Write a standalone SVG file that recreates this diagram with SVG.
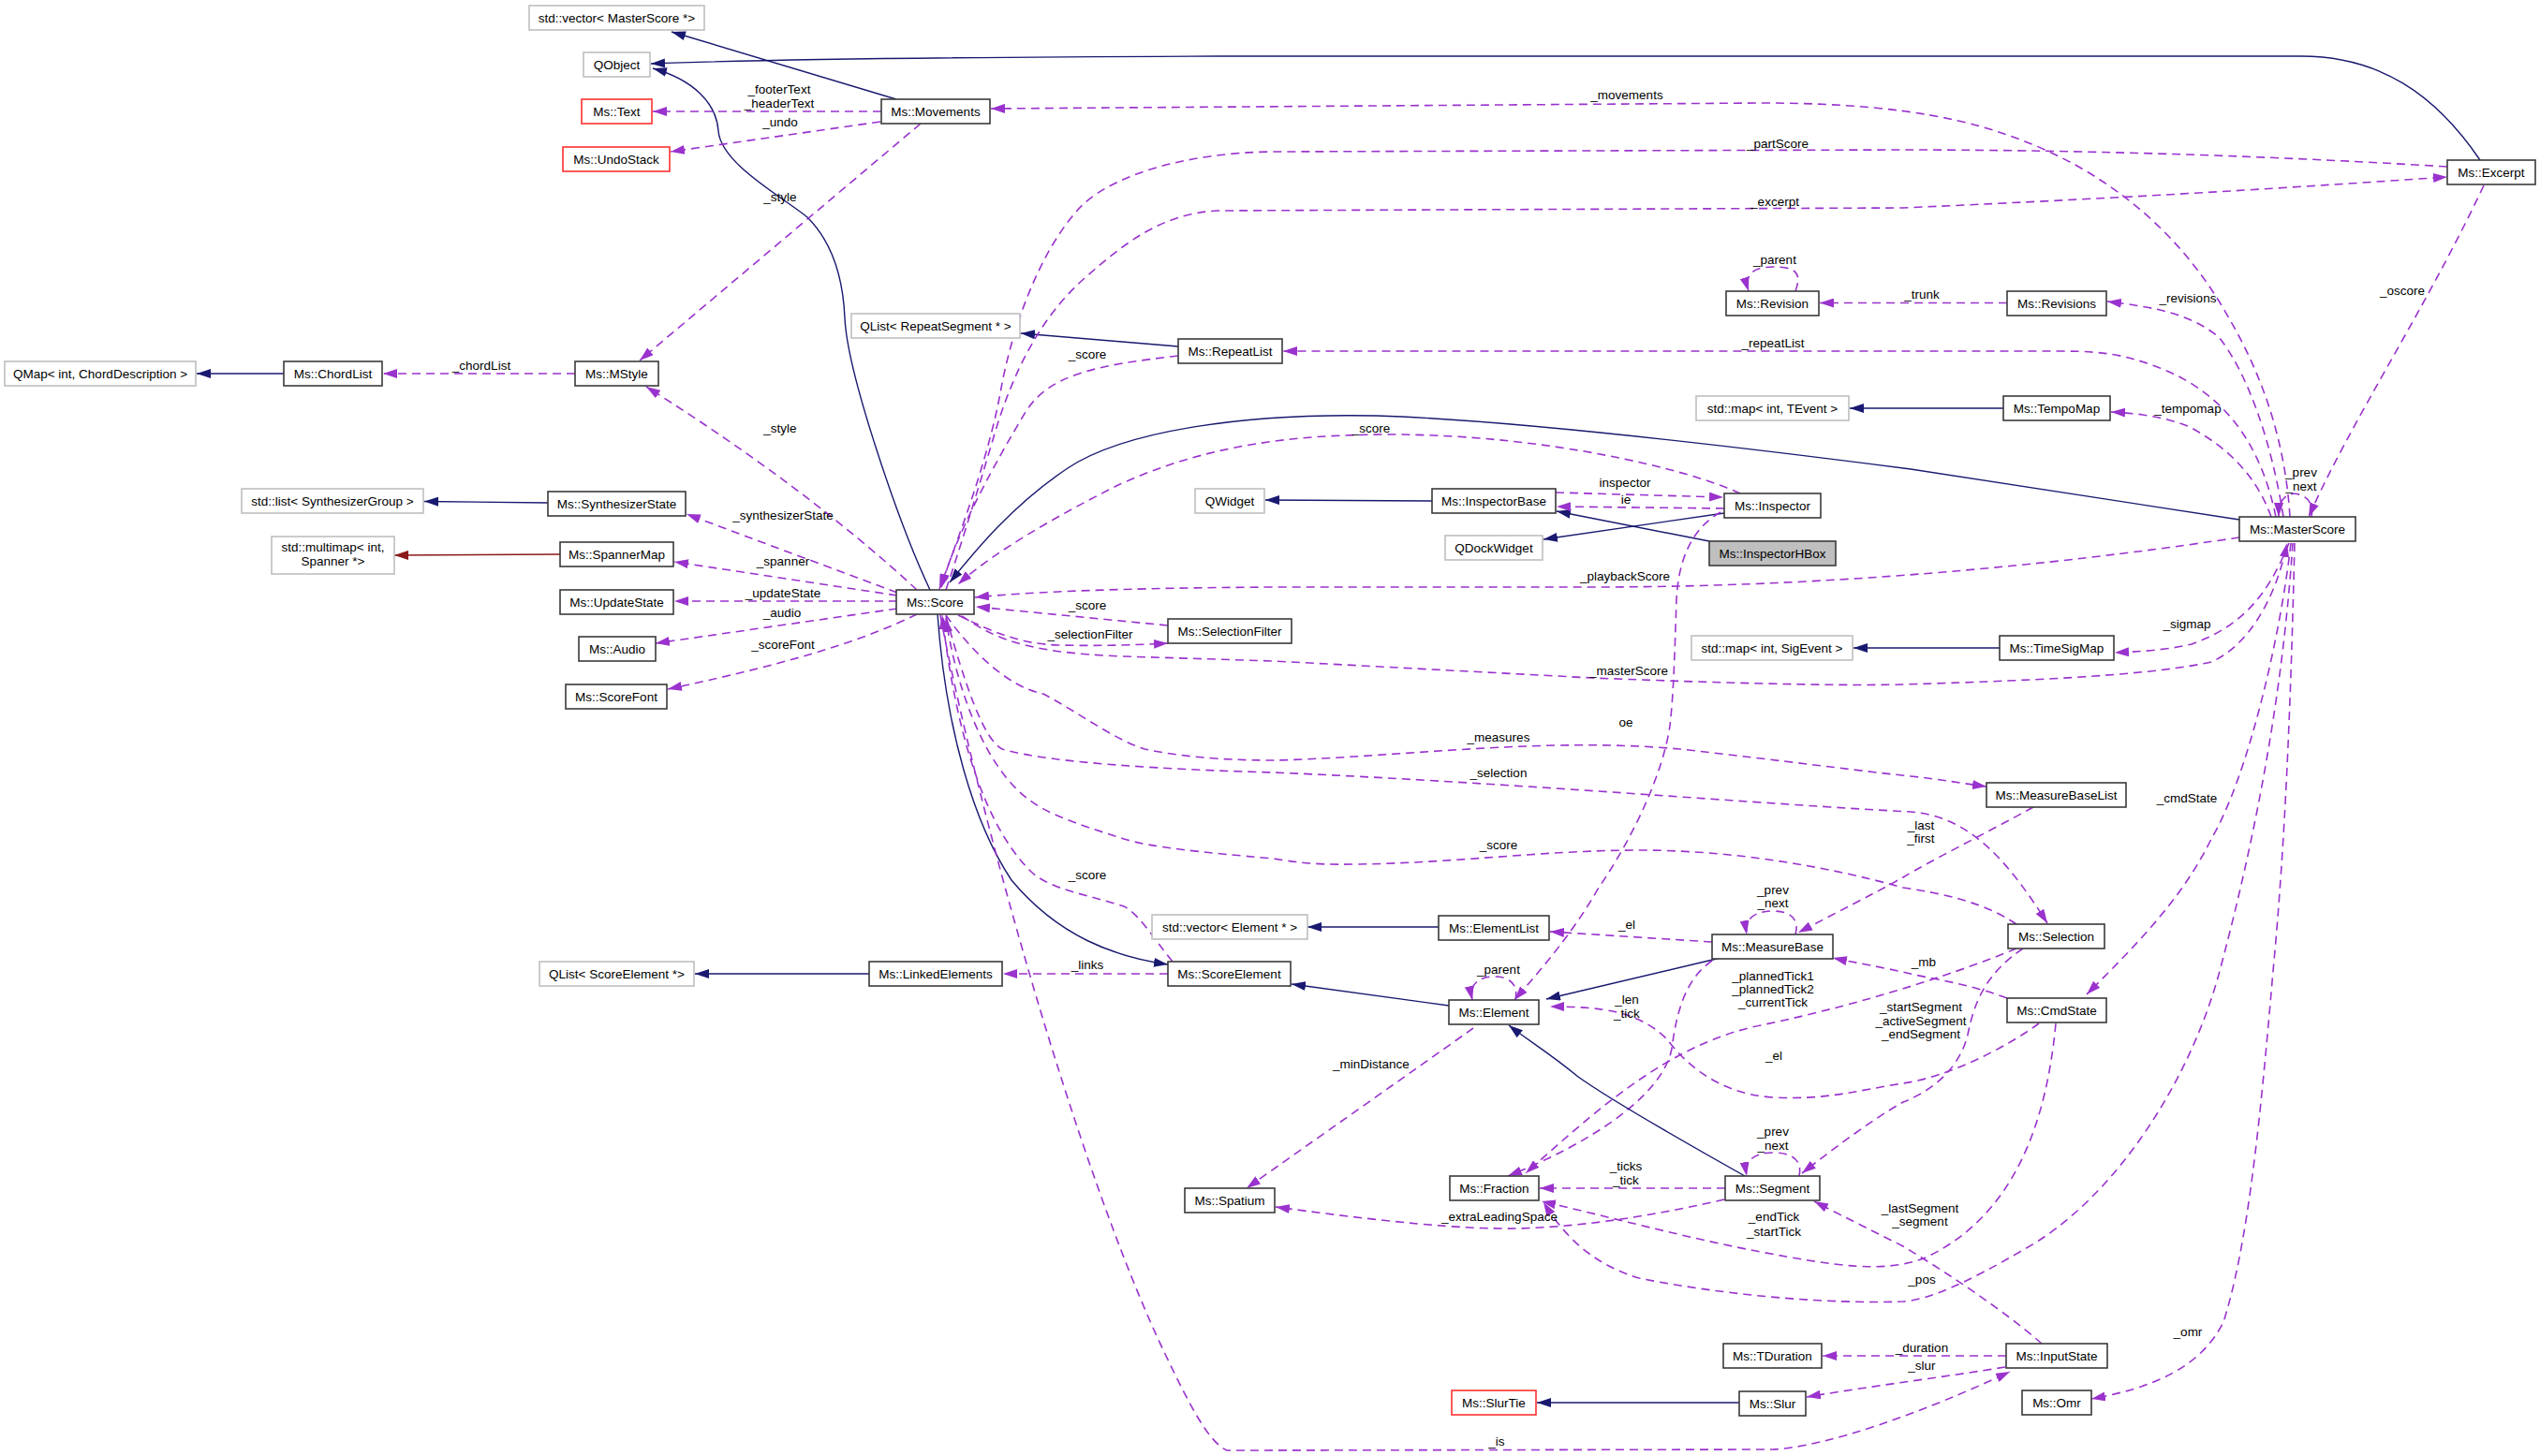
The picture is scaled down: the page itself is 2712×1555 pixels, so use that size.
<svg xmlns="http://www.w3.org/2000/svg" width="2712" height="1555" viewBox="0 0 2712 1555">
<style>
text{font-family:"Liberation Sans",Arial,sans-serif;font-size:13.5px;fill:#000}
.n{fill:#fff;stroke:#3a3a3a;stroke-width:1.6}
.x{fill:#fff;stroke:#bfbfbf;stroke-width:1.6}
.r{fill:#fff;stroke:#ff3030;stroke-width:1.6}
.h{fill:#bfbfbf;stroke:#3a3a3a;stroke-width:1.6}
.t{text-anchor:middle}
.u{fill:none;stroke:#9a32cd;stroke-width:1.6;stroke-dasharray:9,6;marker-end:url(#ap)}
.i{fill:none;stroke:#191970;stroke-width:1.4;marker-end:url(#an)}
.d{fill:none;stroke:#8b1a1a;stroke-width:1.4;marker-end:url(#ad)}
</style>
<defs>
<marker id="ap" viewBox="0 0 15 10" refX="15" refY="5" markerWidth="15" markerHeight="10" markerUnits="userSpaceOnUse" orient="auto"><path d="M0,0L15,5L0,10z" fill="#9a32cd"/></marker>
<marker id="an" viewBox="0 0 15 10" refX="15" refY="5" markerWidth="15" markerHeight="10" markerUnits="userSpaceOnUse" orient="auto"><path d="M0,0L15,5L0,10z" fill="#191970"/></marker>
<marker id="ad" viewBox="0 0 15 10" refX="15" refY="5" markerWidth="15" markerHeight="10" markerUnits="userSpaceOnUse" orient="auto"><path d="M0,0L15,5L0,10z" fill="#8b1a1a"/></marker>
</defs>
<rect width="2712" height="1555" fill="#fff"/>
<g id="edges">
<path class="i" d="M957 106L717 34"/>
<path class="i" d="M2648 171C2600 100 2540 60 2457 60L1300 60C1000 61 800 64 695 68"/>
<path class="i" d="M993 630C960 560 905 400 902 340C900 290 885 255 862 232C835 210 770 175 767 140C765 110 740 85 697 73"/>
<path class="u" d="M941 119L697 119"/>
<path class="u" d="M940 130L716 162"/>
<path class="u" d="M983 132L683 385"/>
<path class="u" d="M614 399L409 399"/>
<path class="i" d="M303 399L210 399"/>
<path class="u" d="M979 630Q860 520 690 413"/>
<path class="u" d="M958 633L733 549"/>
<path class="i" d="M585 537L453 535.5"/>
<path class="u" d="M958 636L720 600"/>
<path class="d" d="M598 592L421 593"/>
<path class="u" d="M958 642L720 642"/>
<path class="u" d="M958 650L700 687"/>
<path class="u" d="M979 656C930 680 860 705 713 736"/>
<path class="i" d="M1258 370L1090 356"/>
<path class="u" d="M1258 380C1170 390 1120 400 1095 440C1065 490 1020 570 1005 628"/>
<path class="u" d="M2613 178C2400 165 2200 160 2032 160L1360 162C1260 163 1180 190 1150 225C1110 270 1080 350 1068 420C1055 490 1025 570 1003 629"/>
<path class="u" d="M1010 630C1030 570 1045 520 1060 470C1080 400 1110 340 1157 298C1200 260 1240 228 1300 225L2032 222C2300 210 2450 200 2613 189"/>
<path class="u" d="M2445 552C2440 470 2415 400 2380 340C2330 250 2250 180 2140 143C2080 122 2000 110 1880 110L1058 116"/>
<path class="u" d="M1858 527C1800 500 1650 465 1490 464C1400 464 1300 470 1196 517C1130 550 1060 590 1023 624"/>
<path class="i" d="M2391 555L2040 501C1800 470 1600 448 1470 444C1330 441 1200 460 1140 500C1080 540 1040 590 1014 622"/>
<path class="u" d="M2391 574C2250 595 2000 627 1700 627L1360 627C1200 628 1100 632 1041 638"/>
<path class="u" d="M1247 668L1042 648"/>
<path class="u" d="M1023 657C1060 675 1090 688 1130 689C1170 690 1210 689 1247 687"/>
<path class="u" d="M1027 658C1060 680 1090 697 1200 701L1360 706L1700 724C1800 728 1950 733 2032 731C2200 726 2300 720 2361 707C2400 690 2430 640 2442 580"/>
<path class="u" d="M2444 580C2420 640 2390 670 2340 688C2310 695 2280 696 2258 697"/>
<path class="i" d="M2135 692L1979 692"/>
<path class="i" d="M2139 436L1975 436"/>
<path class="u" d="M2425 552C2410 510 2380 478 2336 455C2310 445 2280 441 2254 440"/>
<path class="u" d="M2430 552C2415 480 2380 420 2301 391C2270 380 2250 375 2200 375L1370 375"/>
<path class="u" d="M2438 552C2425 470 2400 400 2370 361C2340 335 2300 328 2250 322"/>
<path class="u" d="M2143 323.5L1943 323.5"/>
<path class="u" d="M1917 311C1925 290 1915 285 1893 285C1870 285 1862 295 1867 311"/>
<path class="u" d="M2652 198C2590 330 2510 450 2465 552"/>
<path class="u" d="M2468 552C2472 532 2455 525 2445 528C2436 531 2433 540 2433 552"/>
<path class="u" d="M2446 580C2435 680 2400 830 2361 896C2330 960 2280 1010 2228 1062"/>
<path class="u" d="M2448 580C2440 700 2420 850 2370 1037C2340 1150 2260 1280 2160 1335C2100 1370 2060 1388 2032 1390C1950 1393 1840 1383 1750 1365C1700 1350 1670 1320 1648 1284"/>
<path class="u" d="M2450 580C2446 750 2440 900 2427 1037C2413 1200 2400 1330 2374 1412C2350 1460 2300 1482 2233 1494"/>
<path class="i" d="M1529 535L1351 534"/>
<path class="i" d="M1841 548L1648 576"/>
<path class="i" d="M1825 578L1662 546"/>
<path class="u" d="M1661 526L1840 531"/>
<path class="u" d="M1841 543L1662 541"/>
<path class="u" d="M1837 547C1805 565 1792 600 1790 640C1788 700 1787 740 1783 775C1775 830 1740 900 1707 948C1680 995 1650 1030 1617 1068"/>
<path class="i" d="M1837 1023L1651 1067"/>
<path class="i" d="M1536 990L1396 990"/>
<path class="u" d="M1828 1006L1655 995"/>
<path class="u" d="M1917 998C1922 980 1910 973 1893 973C1875 973 1862 980 1865 998"/>
<path class="u" d="M2171 862C2120 890 2060 920 2032 937C2000 955 1960 975 1920 996"/>
<path class="u" d="M2143 1066C2100 1050 2060 1045 2040 1040C2010 1033 1980 1028 1957 1023"/>
<path class="u" d="M2177 1093C2140 1120 2080 1150 2032 1157C1980 1165 1950 1175 1893 1172C1830 1168 1795 1130 1780 1110C1750 1080 1710 1075 1655 1075"/>
<path class="u" d="M2160 1013C2120 1040 2108 1070 2101 1105C2090 1150 2050 1170 2032 1177C2000 1195 1960 1225 1924 1253"/>
<path class="u" d="M2153 1013C2100 1035 2000 1070 1880 1095C1780 1115 1700 1190 1629 1253"/>
<path class="u" d="M1828 1026C1800 1045 1790 1080 1785 1120C1775 1170 1700 1220 1610 1256"/>
<path class="u" d="M2195 1093C2185 1200 2150 1300 2054 1344C2010 1360 1960 1352 1880 1337C1800 1322 1720 1300 1646 1283"/>
<path class="i" d="M1863 1256C1790 1215 1720 1175 1685 1150C1655 1125 1630 1110 1611 1095"/>
<path class="u" d="M1921 1256C1925 1238 1912 1231 1893 1231C1875 1231 1862 1238 1865 1256"/>
<path class="u" d="M1842 1269L1644 1269"/>
<path class="u" d="M1841 1281C1780 1295 1700 1310 1620 1312C1560 1313 1480 1305 1362 1289"/>
<path class="u" d="M1573 1098C1500 1150 1400 1220 1331 1269"/>
<path class="i" d="M1547 1074L1379 1051"/>
<path class="u" d="M1618 1068C1622 1050 1610 1043 1596 1043C1580 1043 1568 1050 1572 1068"/>
<path class="u" d="M1247 1040L1071 1040"/>
<path class="i" d="M928 1040L742 1040"/>
<path class="i" d="M1001 656C1010 780 1040 880 1080 940C1130 1000 1190 1022 1247 1030"/>
<path class="u" d="M1252 1027C1230 1000 1215 975 1200 968C1160 955 1120 950 1100 930C1050 880 1020 780 1006 657"/>
<path class="u" d="M1004 657C1040 850 1150 1250 1244 1446C1270 1500 1290 1540 1310 1549L1893 1548C1950 1545 2050 1510 2146 1465"/>
<path class="u" d="M2141 1460C2080 1470 2000 1480 1929 1492"/>
<path class="u" d="M2142 1448L1946 1448"/>
<path class="u" d="M2180 1435C2140 1400 2080 1360 2032 1331C1990 1310 1960 1295 1937 1283"/>
<path class="i" d="M1857 1498L1641 1498"/>
<path class="u" d="M1010 658C1030 730 1050 790 1070 800C1120 815 1250 822 1360 825C1600 835 1900 860 2040 867C2100 872 2140 913 2186 986"/>
<path class="u" d="M2153 987C2120 965 2080 955 2032 948C1950 925 1850 908 1750 908C1650 908 1550 922 1447 923C1400 924 1380 920 1360 917C1280 910 1230 905 1200 896C1150 880 1120 870 1100 855C1050 820 1020 730 1010 660"/>
<path class="u" d="M1010 657C1040 700 1080 735 1114 741C1150 760 1190 790 1222 800C1270 810 1320 812 1360 812C1450 810 1560 798 1663 796C1720 795 1760 797 1794 800C1900 812 2000 825 2040 829C2070 832 2090 836 2121 840"/>
<g class="t">
<text x="832" y="100">_footerText</text>
<text x="832" y="115">_headerText</text>
<text x="833" y="135">_undo</text>
<text x="833" y="215">_style</text>
<text x="514" y="395">_chordList</text>
<text x="833" y="462">_style</text>
<text x="836" y="555">_synthesizerState</text>
<text x="836" y="604">_spanner</text>
<text x="836" y="638">_updateState</text>
<text x="835" y="659">_audio</text>
<text x="836" y="693">_scoreFont</text>
<text x="1161" y="383">_score</text>
<text x="1737" y="106">_movements</text>
<text x="1898" y="158">_partScore</text>
<text x="1895" y="220">_excerpt</text>
<text x="1895" y="282">_parent</text>
<text x="1893" y="371">_repeatList</text>
<text x="2052" y="319">_trunk</text>
<text x="2336" y="323">_revisions</text>
<text x="2565" y="315">_oscore</text>
<text x="2336" y="441">_tempomap</text>
<text x="2457" y="509">_prev</text>
<text x="2457" y="524">_next</text>
<text x="1464" y="462">_score</text>
<text x="1735" y="520">inspector</text>
<text x="1736" y="538">ie</text>
<text x="1735" y="620">_playbackScore</text>
<text x="1161" y="651">_score</text>
<text x="1164" y="682">_selectionFilter</text>
<text x="1739" y="721">_masterScore</text>
<text x="2335" y="671">_sigmap</text>
<text x="1736" y="776">oe</text>
<text x="1600" y="792">_measures</text>
<text x="1600" y="830">_selection</text>
<text x="2335" y="857">_cmdState</text>
<text x="2051" y="886">_last</text>
<text x="2051" y="900">_first</text>
<text x="1600" y="907">_score</text>
<text x="1161" y="939">_score</text>
<text x="1893" y="955">_prev</text>
<text x="1893" y="969">_next</text>
<text x="1737" y="992">_el</text>
<text x="2054" y="1032">_mb</text>
<text x="1161" y="1035">_links</text>
<text x="1600" y="1040">_parent</text>
<text x="1893" y="1047">_plannedTick1</text>
<text x="1893" y="1061">_plannedTick2</text>
<text x="1893" y="1075">_currentTick</text>
<text x="1737" y="1072">_len</text>
<text x="1737" y="1087">_tick</text>
<text x="2051" y="1080">_startSegment</text>
<text x="2051" y="1095">_activeSegment</text>
<text x="2051" y="1109">_endSegment</text>
<text x="1894" y="1132">_el</text>
<text x="1464" y="1141">_minDistance</text>
<text x="1893" y="1213">_prev</text>
<text x="1893" y="1228">_next</text>
<text x="1736" y="1250">_ticks</text>
<text x="1736" y="1265">_tick</text>
<text x="2050" y="1295">_lastSegment</text>
<text x="2050" y="1309">_segment</text>
<text x="1601" y="1304">_extraLeadingSpace</text>
<text x="1894" y="1304">_endTick</text>
<text x="1894" y="1320">_startTick</text>
<text x="2052" y="1371">_pos</text>
<text x="2336" y="1427">_omr</text>
<text x="2052" y="1444">_duration</text>
<text x="2052" y="1463">_slur</text>
<text x="1598" y="1544">_is</text>
</g>
</g>
<g id="n_vecMasterScore"><rect class="x" x="565" y="6" width="187" height="26"/><text class="t" x="658.5" y="23.7">std::vector&lt; MasterScore *&gt;</text></g>
<g id="n_QObject"><rect class="x" x="623" y="56" width="71" height="26"/><text class="t" x="658.5" y="73.7">QObject</text></g>
<g id="n_Text"><rect class="r" x="621" y="106" width="75" height="26"/><text class="t" x="658.5" y="123.7">Ms::Text</text></g>
<g id="n_UndoStack"><rect class="r" x="601" y="157" width="114" height="26"/><text class="t" x="658" y="174.7">Ms::UndoStack</text></g>
<g id="n_Movements"><rect class="n" x="941" y="106" width="116" height="26"/><text class="t" x="999" y="123.7">Ms::Movements</text></g>
<g id="n_QMap"><rect class="x" x="5" y="386" width="204" height="26"/><text class="t" x="107" y="403.7">QMap&lt; int, ChordDescription &gt;</text></g>
<g id="n_ChordList"><rect class="n" x="303" y="386" width="105" height="26"/><text class="t" x="355.5" y="403.7">Ms::ChordList</text></g>
<g id="n_MStyle"><rect class="n" x="614" y="386" width="89" height="26"/><text class="t" x="658.5" y="403.7">Ms::MStyle</text></g>
<g id="n_QListRepeat"><rect class="x" x="909" y="335" width="180" height="26"/><text class="t" x="999" y="352.7">QList&lt; RepeatSegment * &gt;</text></g>
<g id="n_RepeatList"><rect class="n" x="1258" y="362" width="111" height="26"/><text class="t" x="1313.5" y="379.7">Ms::RepeatList</text></g>
<g id="n_Revision"><rect class="n" x="1843" y="311" width="99" height="26"/><text class="t" x="1892.5" y="328.7">Ms::Revision</text></g>
<g id="n_Revisions"><rect class="n" x="2143" y="311" width="106" height="26"/><text class="t" x="2196" y="328.7">Ms::Revisions</text></g>
<g id="n_Excerpt"><rect class="n" x="2613" y="171" width="94" height="26"/><text class="t" x="2660" y="188.7">Ms::Excerpt</text></g>
<g id="n_mapTEvent"><rect class="x" x="1811" y="423" width="163" height="26"/><text class="t" x="1892.5" y="440.7">std::map&lt; int, TEvent &gt;</text></g>
<g id="n_TempoMap"><rect class="n" x="2139" y="423" width="114" height="26"/><text class="t" x="2196" y="440.7">Ms::TempoMap</text></g>
<g id="n_listSynth"><rect class="x" x="258" y="522" width="194" height="26"/><text class="t" x="355" y="539.7">std::list&lt; SynthesizerGroup &gt;</text></g>
<g id="n_SynthesizerState"><rect class="n" x="585" y="525" width="147" height="26"/><text class="t" x="658.5" y="542.7">Ms::SynthesizerState</text></g>
<g id="n_multimap"><rect class="x" x="290" y="573" width="131" height="40"/><text class="t" x="355.5" y="589">std::multimap&lt; int,</text><text class="t" x="355.5" y="604">Spanner *&gt;</text></g>
<g id="n_SpannerMap"><rect class="n" x="598" y="579" width="121" height="26"/><text class="t" x="658.5" y="596.7">Ms::SpannerMap</text></g>
<g id="n_UpdateState"><rect class="n" x="598" y="630" width="121" height="26"/><text class="t" x="658.5" y="647.7">Ms::UpdateState</text></g>
<g id="n_Audio"><rect class="n" x="618" y="680" width="82" height="26"/><text class="t" x="659" y="697.7">Ms::Audio</text></g>
<g id="n_ScoreFont"><rect class="n" x="604" y="731" width="108" height="26"/><text class="t" x="658" y="748.7">Ms::ScoreFont</text></g>
<g id="n_Score"><rect class="n" x="957" y="630" width="83" height="26"/><text class="t" x="998.5" y="647.7">Ms::Score</text></g>
<g id="n_QWidget"><rect class="x" x="1276" y="522" width="74" height="26"/><text class="t" x="1313" y="539.7">QWidget</text></g>
<g id="n_InspectorBase"><rect class="n" x="1529" y="522" width="132" height="26"/><text class="t" x="1595" y="539.7">Ms::InspectorBase</text></g>
<g id="n_Inspector"><rect class="n" x="1841" y="527" width="103" height="26"/><text class="t" x="1892.5" y="544.7">Ms::Inspector</text></g>
<g id="n_QDockWidget"><rect class="x" x="1543" y="572" width="104" height="26"/><text class="t" x="1595" y="589.7">QDockWidget</text></g>
<g id="n_InspectorHBox"><rect class="h" x="1825" y="578" width="135" height="26"/><text class="t" x="1892.5" y="595.7">Ms::InspectorHBox</text></g>
<g id="n_SelectionFilter"><rect class="n" x="1247" y="661" width="132" height="26"/><text class="t" x="1313" y="678.7">Ms::SelectionFilter</text></g>
<g id="n_mapSigEvent"><rect class="x" x="1806" y="679" width="172" height="26"/><text class="t" x="1892" y="696.7">std::map&lt; int, SigEvent &gt;</text></g>
<g id="n_TimeSigMap"><rect class="n" x="2135" y="679" width="122" height="26"/><text class="t" x="2196" y="696.7">Ms::TimeSigMap</text></g>
<g id="n_MasterScore"><rect class="n" x="2391" y="552" width="124" height="26"/><text class="t" x="2453" y="569.7">Ms::MasterScore</text></g>
<g id="n_MeasureBaseList"><rect class="n" x="2121" y="836" width="149" height="26"/><text class="t" x="2195.5" y="853.7">Ms::MeasureBaseList</text></g>
<g id="n_Selection"><rect class="n" x="2144" y="987" width="103" height="26"/><text class="t" x="2195.5" y="1004.7">Ms::Selection</text></g>
<g id="n_vecElement"><rect class="x" x="1230" y="977" width="166" height="26"/><text class="t" x="1313" y="994.7">std::vector&lt; Element * &gt;</text></g>
<g id="n_ElementList"><rect class="n" x="1536" y="978" width="118" height="26"/><text class="t" x="1595" y="995.7">Ms::ElementList</text></g>
<g id="n_MeasureBase"><rect class="n" x="1828" y="998" width="129" height="26"/><text class="t" x="1892.5" y="1015.7">Ms::MeasureBase</text></g>
<g id="n_QListScoreElement"><rect class="x" x="576" y="1027" width="165" height="26"/><text class="t" x="658.5" y="1044.7">QList&lt; ScoreElement *&gt;</text></g>
<g id="n_LinkedElements"><rect class="n" x="928" y="1027" width="142" height="26"/><text class="t" x="999" y="1044.7">Ms::LinkedElements</text></g>
<g id="n_ScoreElement"><rect class="n" x="1247" y="1027" width="131" height="26"/><text class="t" x="1312.5" y="1044.7">Ms::ScoreElement</text></g>
<g id="n_Element"><rect class="n" x="1547" y="1068" width="96" height="26"/><text class="t" x="1595" y="1085.7">Ms::Element</text></g>
<g id="n_CmdState"><rect class="n" x="2143" y="1066" width="106" height="26"/><text class="t" x="2196" y="1083.7">Ms::CmdState</text></g>
<g id="n_Spatium"><rect class="n" x="1265" y="1269" width="96" height="26"/><text class="t" x="1313" y="1286.7">Ms::Spatium</text></g>
<g id="n_Fraction"><rect class="n" x="1548" y="1256" width="95" height="26"/><text class="t" x="1595.5" y="1273.7">Ms::Fraction</text></g>
<g id="n_Segment"><rect class="n" x="1842" y="1256" width="101" height="26"/><text class="t" x="1892.5" y="1273.7">Ms::Segment</text></g>
<g id="n_TDuration"><rect class="n" x="1840" y="1435" width="105" height="26"/><text class="t" x="1892.5" y="1452.7">Ms::TDuration</text></g>
<g id="n_InputState"><rect class="n" x="2142" y="1435" width="108" height="26"/><text class="t" x="2196" y="1452.7">Ms::InputState</text></g>
<g id="n_SlurTie"><rect class="r" x="1550" y="1485" width="90" height="26"/><text class="t" x="1595" y="1502.7">Ms::SlurTie</text></g>
<g id="n_Slur"><rect class="n" x="1857" y="1486" width="71" height="26"/><text class="t" x="1892.5" y="1503.7">Ms::Slur</text></g>
<g id="n_Omr"><rect class="n" x="2159" y="1485" width="74" height="26"/><text class="t" x="2196" y="1502.7">Ms::Omr</text></g>
</svg>
